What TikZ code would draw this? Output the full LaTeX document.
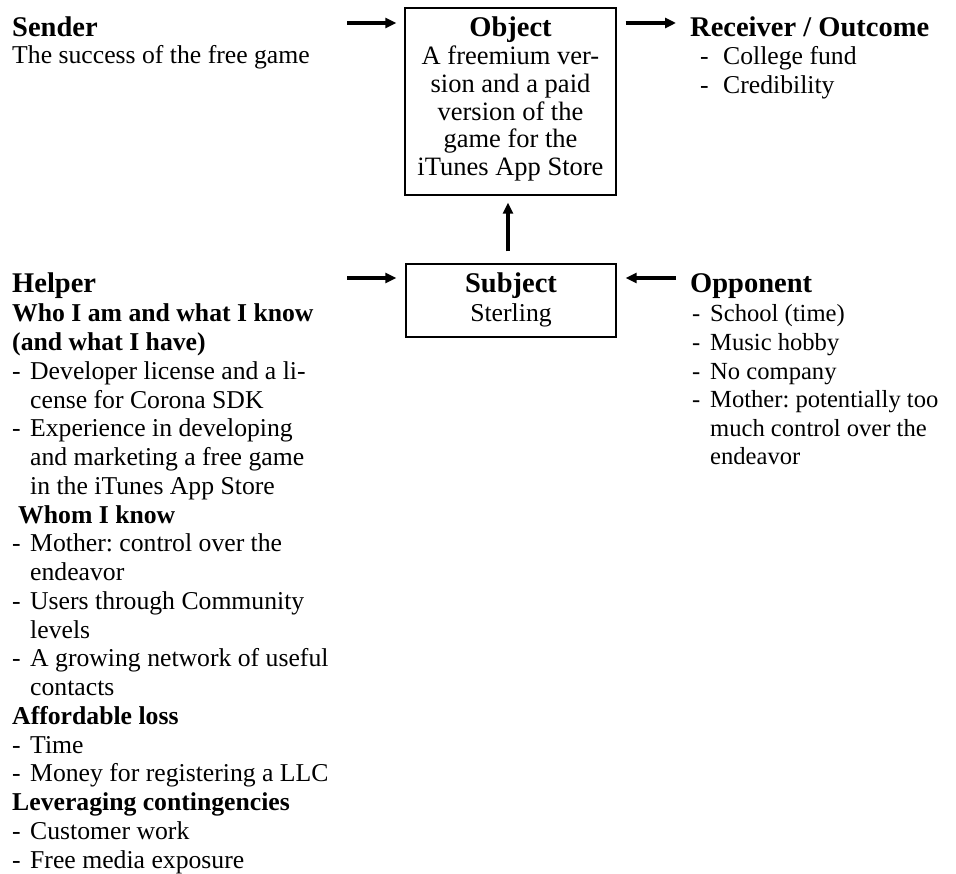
\documentclass[tikz,border=0pt]{standalone}
\usepackage{fontspec}
\setmainfont{Liberation Serif}
\usetikzlibrary{arrows.meta}

\newcommand{\hang}[1]{\hspace*{#1}}
\frenchspacing

\begin{document}
\begin{tikzpicture}[x=1pt,y=-1pt,
  head/.style={font=\fontsize{28.5}{32}\selectfont\bfseries, inner sep=0pt, anchor=base west},
  body/.style={font=\fontsize{25.7}{28.74}\selectfont, inner sep=0pt, anchor=base west},
  oppbody/.style={font=\fontsize{24.6}{28.6}\selectfont, inner sep=0pt, anchor=base west},
  objbody/.style={font=\fontsize{26.5}{27.6}\selectfont, inner sep=0pt, anchor=base},
  frame/.style={draw, line width=1.4pt, inner sep=0pt},
  arr/.style={line width=3.6pt, -{Triangle[length=11pt,width=10pt]}}
]
\useasboundingbox (0,0) rectangle (956,874);

% ---- boxes ----
\node[frame, minimum width=211pt, minimum height=187pt] (obj) at (510.5,101.5) {};
\node[frame, minimum width=210pt, minimum height=73pt] (subj) at (511,300.5) {};

% ---- object text ----
\node[head, anchor=base] (objT) at (510.5,37) {Object};
\node[objbody] (objB) at (510.5,65) {\begin{tabular}[t]{@{}c@{}}
A freemium ver-\\ sion and a paid\\ version of the\\ game for the\\ iTunes App Store
\end{tabular}};

% ---- subject text ----
\node[head, anchor=base] (subjT) at (511,293) {Subject};
\node[body, anchor=base] (subjB) at (511,322) {Sterling};

% ---- sender ----
\node[head] (sendT) at (12,37) {Sender};
\node[body] (sendB) at (12,64) {The success of the free game};

% ---- receiver ----
\node[head] (recT) at (690,37) {Receiver / Outcome};
\node[body] (recB) at (700,65) {\begin{tabular}[t]{@{}l@{}}
\makebox[23pt][l]{-}College fund\\
\makebox[23pt][l]{-}Credibility
\end{tabular}};

% ---- helper ----
\node[head] (helpT) at (12,293) {Helper};
\node[body] (helpB) at (12,322) {\begin{tabular}[t]{@{}l@{}}
\textbf{Who I am and what I know}\\
\textbf{(and what I have)}\\
\makebox[18pt][l]{-}Developer license and a li-\\
\hang{18pt}cense for Corona SDK\\
\makebox[18pt][l]{-}Experience in developing\\
\hang{18pt}and marketing a free game\\
\hang{18pt}in the iTunes App Store\\
\hang{6pt}\textbf{Whom I know}\\
\makebox[18pt][l]{-}Mother: control over the\\
\hang{18pt}endeavor\\
\makebox[18pt][l]{-}Users through Community\\
\hang{18pt}levels\\
\makebox[18pt][l]{-}A growing network of useful\\
\hang{18pt}contacts\\
\textbf{Affordable loss}\\
\makebox[18pt][l]{-}Time\\
\makebox[18pt][l]{-}Money for registering a LLC\\
\textbf{Leveraging contingencies}\\
\makebox[18pt][l]{-}Customer work\\
\makebox[18pt][l]{-}Free media exposure
\end{tabular}};

% ---- opponent ----
\node[head] (oppT) at (690,293) {Opponent};
\node[oppbody] (oppB) at (692,322) {\begin{tabular}[t]{@{}l@{}}
\makebox[18pt][l]{-}School (time)\\
\makebox[18pt][l]{-}Music hobby\\
\makebox[18pt][l]{-}No company\\
\makebox[18pt][l]{-}Mother: potentially too\\
\hang{18pt}much control over the\\
\hang{18pt}endeavor
\end{tabular}};

% ---- connector ends ----
\coordinate (sA) at (347,23);
\coordinate (rA) at (676,23);
\coordinate (hA) at (347,278);
\coordinate (oA) at (676,278);

% ---- connectors ----
\draw[arr, shorten >=8pt] (sA) -- (sA -| obj.west);
\draw[arr, shorten <=9pt] (rA -| obj.east) -- (rA);
\draw[arr, shorten <=12pt, shorten >=7pt] (subj.north -| 508,0) -- (obj.south -| 508,0);
\draw[arr, shorten >=9pt] (hA) -- (hA -| subj.west);
\draw[arr, shorten >=9pt] (oA) -- (oA -| subj.east);
\end{tikzpicture}
\end{document}
